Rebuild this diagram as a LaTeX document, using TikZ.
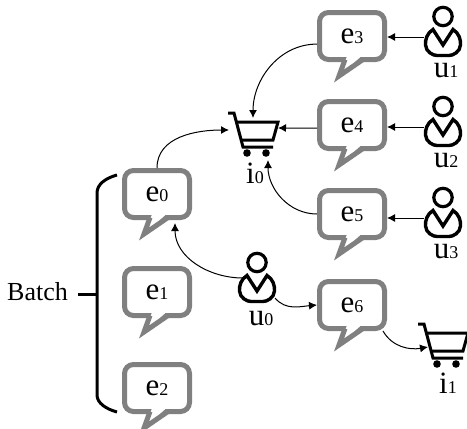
\documentclass[tikz,border=0pt]{standalone}
\usepackage{fontspec}
\setmainfont{Liberation Serif}
\usetikzlibrary{arrows.meta}

\definecolor{bubblegray}{HTML}{808080}
\newcommand{\tagtext}[2]{{\fontsize{31}{31}\selectfont #1}{\fontsize{18}{18}\selectfont #2}}
\newcommand{\bubbletail}[1]{
   \fill[white] ([shift={(-5,-5.5)}]#1.south) -- ([shift={(-13,14)}]#1.south) -- ([shift={(9,-5.5)}]#1.south) -- cycle;
   \draw[bubble line] ([shift={(-7,-2.5)}]#1.south) -- ([shift={(-13,14)}]#1.south) -- ([shift={(11,-2.5)}]#1.south);
}

\tikzset{
   bubble line/.style={draw=bubblegray, line width=5pt, miter limit=10},
   bubble/.style={rectangle, draw=bubblegray, line width=5pt, rounded corners=9pt, fill=white, inner sep=0pt, minimum width=65pt, minimum height=47pt},
   tag/.style={inner sep=0pt, anchor=base},
   flow/.style={line width=1pt, -{Latex[length=8pt,width=8pt]}},
   usericon/.pic={
      \draw[line width=3.2pt] (0,-19.5) circle (9.2pt);
      \draw[line width=3.4pt] (0,9) -- (-10,-6.5) .. controls (-16,-3) and (-18,4) .. (-17.5,9) .. controls (-17,16) and (-10,19.5) .. (-6,19.5) -- (6,19.5) .. controls (10,19.5) and (17,16) .. (17.5,9) .. controls (18,4) and (16,-3) .. (10,-6.5) -- cycle;
      \coordinate (-w) at (-19,1);
      \coordinate (-nw) at (-14,-4);
      \coordinate (-se) at (18,16);
   },
   carticon/.pic={
      \draw[line width=3pt] (-25,-20) -- (-19,-20) -- (-10,14) -- (20,14);
      \draw[line width=3pt] (-17,-11) -- (25,-11) -- (20,7) -- (-13,7);
      \fill (-6,20) circle (3.8pt);
      \fill (13,20) circle (3.8pt);
      \coordinate (-n) at (0,-15);
      \coordinate (-e) at (25,-5);
      \coordinate (-s) at (15,27);
      \coordinate (-w) at (-24,-3);
      \coordinate (-sw) at (-15,3);
   }
}

\begin{document}
\begin{tikzpicture}[x=1pt, y=-1pt]
   \useasboundingbox (0,0) rectangle (467,429);

   \node[bubble] (e0) at (157,194) {\tagtext{e}{0}};
   \node[bubble] (e1) at (157,292) {\tagtext{e}{1}};
   \node[bubble] (e2) at (157,388) {\tagtext{e}{2}};
   \node[bubble] (e3) at (352,36)  {\tagtext{e}{3}};
   \node[bubble] (e4) at (352,125) {\tagtext{e}{4}};
   \node[bubble] (e5) at (352,214) {\tagtext{e}{5}};
   \node[bubble] (e6) at (352,305) {\tagtext{e}{6}};

   \bubbletail{e0}
   \bubbletail{e1}
   \bubbletail{e2}
   \bubbletail{e3}
   \bubbletail{e4}
   \bubbletail{e5}
   \bubbletail{e6}

   \pic (u0) at (257,282) {usericon};
   \pic (u1) at (443,36)  {usericon};
   \pic (u2) at (443,126) {usericon};
   \pic (u3) at (443,217) {usericon};
   \pic (i0) at (253,133) {carticon};
   \pic (i1) at (443,344) {carticon};

   \node[tag] (u0tag) at (261,325) {\tagtext{u}{0}};
   \node[tag] (u1tag) at (446,77)  {\tagtext{u}{1}};
   \node[tag] (u2tag) at (446,167) {\tagtext{u}{2}};
   \node[tag] (u3tag) at (446,258) {\tagtext{u}{3}};
   \node[tag] (i0tag) at (255,183) {\tagtext{i}{0}};
   \node[tag] (i1tag) at (448,393) {\tagtext{i}{1}};

   \draw[flow] (e0.north) to[out=90, in=180] (i0-w);
   \draw[flow] (e3.193) to[out=180, in=90] (i0-n);
   \draw[flow] (e4.185) -- (i0-e);
   \draw[flow] (e5.west) to[out=180, in=-90] (i0-s);
   \draw[flow] (u1-w) -- (e3.east |- u1-w);
   \draw[flow] (u2-w) -- (e4.east |- u2-w);
   \draw[flow] (u3-w) -- (e5.east |- u3-w);
   \draw[flow] (u0-nw) to[out=180, in=-90] ([shift={(18,3)}]e0.south);
   \draw[flow] (u0-se) to[out=-50, in=185] (e6.west);
   \draw[flow] (e6.-40) to[out=-60, in=190] (i1-sw);

   \node[inner sep=0pt, anchor=base west, font=\fontsize{26}{26}\selectfont] (batch) at (7,300) {Batch};
   \coordinate (bracemid) at (97,294);
   \draw[line width=3pt] (117,175) .. controls (106,178) and (97,184) .. (97,193) -- (97,395) .. controls (97,403) and (106,409) .. (117,412);
   \draw[line width=3pt] ([xshift=10pt]batch.east |- bracemid) -- (bracemid);
\end{tikzpicture}
\end{document}
